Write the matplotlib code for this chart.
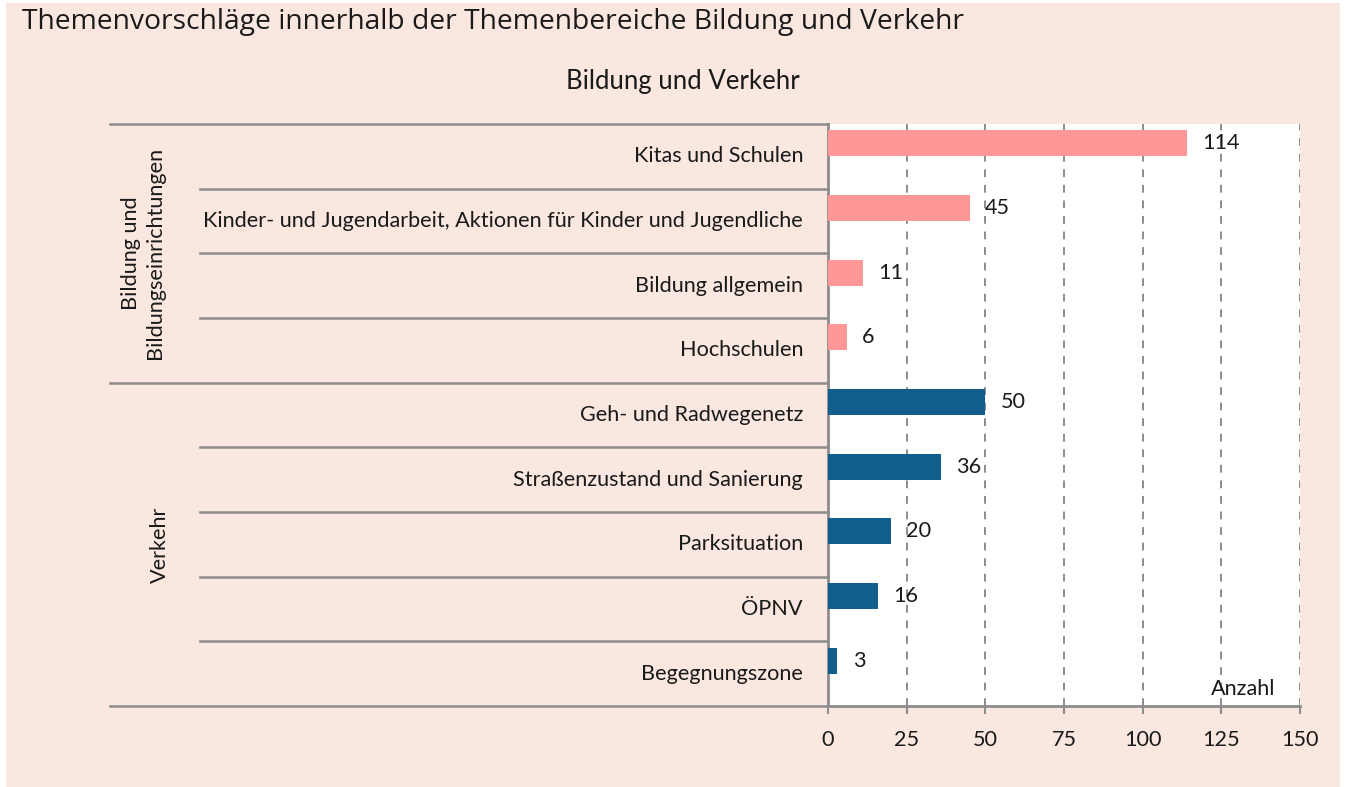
import matplotlib
matplotlib.use("Agg")
import matplotlib.pyplot as plt
from matplotlib.patches import Rectangle
from matplotlib.lines import Line2D

categories = ["Kitas und Schulen",
              "Kinder- und Jugendarbeit, Aktionen für Kinder und Jugendliche",
              "Bildung allgemein", "Hochschulen",
              "Geh- und Radwegenetz", "Straßenzustand und Sanierung",
              "Parksituation", "ÖPNV", "Begegnungszone"]
values = [114, 45, 11, 6, 50, 36, 20, 16, 3]
groups = ["Bildung", "Bildung", "Bildung", "Bildung",
          "Verkehr", "Verkehr", "Verkehr", "Verkehr", "Verkehr"]
group_labels = ["Bildung und\nBildungseinrichtungen", "Verkehr"]
xticks = [0, 25, 50, 75, 100, 125, 150]
title = "Themenvorschläge innerhalb der Themenbereiche Bildung und Verkehr"
subtitle = "Bildung und Verkehr"

W, H = 1348, 787
fig = plt.figure(figsize=(W / 100, H / 100), dpi=100, facecolor="white")
PEACH = "#F9E7E0"
PINK = "#FF9797"
BLUE = "#135F8B"
GRAY = "#8C8C8C"
TXT = "#1A1A1A"
LFONT = "Lato"
FS = 15.6


def fx(x):
    return x / W


def fy(y):
    return 1 - y / H


fig.patches.append(Rectangle((fx(6), fy(787)), fx(1340) - fx(6), fy(3) - fy(787),
                             transform=fig.transFigure, facecolor=PEACH,
                             edgecolor="none", zorder=-5))

fig.text(fx(22), fy(22), title, fontsize=20.3, family="Open Sans", color=TXT,
         va="center", ha="left")
fig.text(fx(683), fy(82), subtitle, fontsize=18.5, family=LFONT, color=TXT,
         va="center", ha="center")

L, R, T, B = 828, 1300, 124, 706
ax = fig.add_axes([fx(L), fy(B), fx(R) - fx(L), fy(T) - fy(B)])
ax.set_zorder(1)
ax.set_facecolor("white")
ax.set_xlim(0, 150)
n = len(categories)
ax.set_ylim(n, 0)

colors = [PINK if g == "Bildung" else BLUE for g in groups]
ypos = [i + 0.3 for i in range(n)]
ax.barh(ypos, values, height=0.4, color=colors, zorder=3)
for y, v in zip(ypos, values):
    ax.annotate(str(v), (v, y), xytext=(11, 0), textcoords="offset points",
                va="center", ha="left", fontsize=FS, family=LFONT, color=TXT,
                zorder=4)

ax.set_xticks(xticks)
ax.set_xticklabels([str(t) for t in xticks], fontsize=FS, family=LFONT, color=TXT)
ax.tick_params(axis="x", length=6, width=1.5, color=GRAY, pad=11)
ax.set_yticks([])
for t in xticks[1:]:
    ax.axvline(t, color=GRAY, lw=1.4, ls=(0, (4, 4)), zorder=1)
for s in ["top", "right"]:
    ax.spines[s].set_visible(False)
for s in ["left", "bottom"]:
    ax.spines[s].set_color(GRAY)
    ax.spines[s].set_linewidth(2)

ax.text(0.947, 0.012, "Anzahl", transform=ax.transAxes, ha="right", va="bottom",
        fontsize=FS, family=LFONT, color=TXT)

# category labels and separators in figure coordinates
row_h = (B - T) / n
for i, c in enumerate(categories):
    yc = T + (i + 0.5) * row_h
    fig.text(fx(803), fy(yc), c, ha="right", va="center", fontsize=FS,
             family=LFONT, color=TXT)

for i in range(n + 1):
    y = T + i * row_h
    boundary = i == 0 or i == n or groups[i - 1] != groups[i]
    x0 = 110 if boundary else 200
    fig.lines.append(Line2D([fx(x0), fx(L)], [fy(y), fy(y)], transform=fig.transFigure,
                            color=GRAY, lw=1.8, zorder=2))

# group labels
g_start = 0
gi = 0
for i in range(1, n + 1):
    if i == n or groups[i] != groups[i - 1]:
        yc = T + (g_start + i) / 2 * row_h
        xc = 143 if gi == 0 else 160
        fig.text(fx(xc), fy(yc), group_labels[gi], rotation=90, ha="center",
                 va="center", fontsize=FS, family=LFONT, color=TXT,
                 multialignment="center", linespacing=1.25)
        gi += 1
        g_start = i

fig.savefig("out.png", dpi=100, facecolor=fig.get_facecolor())
